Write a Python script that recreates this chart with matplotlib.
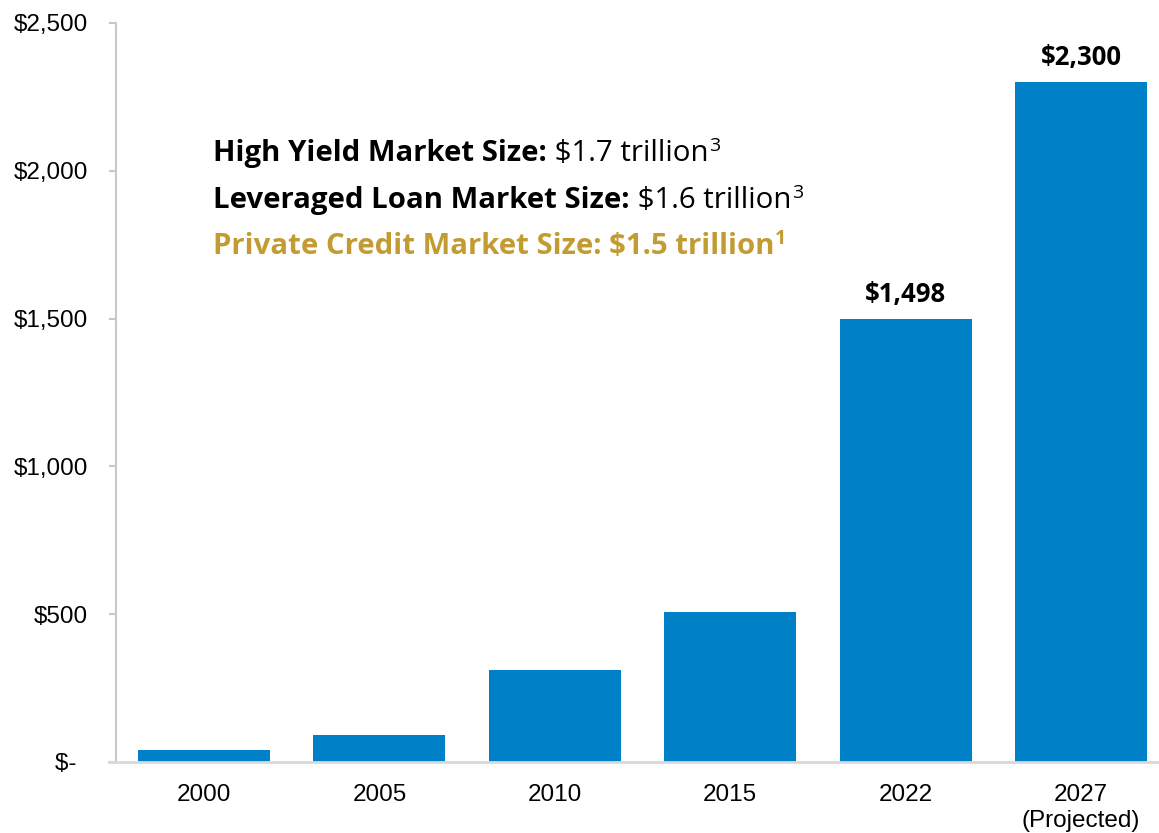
import matplotlib
matplotlib.use("Agg")
import matplotlib.pyplot as plt
from matplotlib.ticker import FixedLocator

categories = ["2000", "2005", "2010", "2015", "2022", "2027\n(Projected)"]
values = [40, 92, 310, 506, 1498, 2300]
value_labels = {4: "$1,498", 5: "$2,300"}
yticks = [0, 500, 1000, 1500, 2000, 2500]
ytick_labels = ["$-\u2002", "$500", "$1,000", "$1,500", "$2,000", "$2,500"]

lines = [
    ("High Yield Market Size:", " $1.7 trillion", "3", "black", False),
    ("Leveraged Loan Market Size:", " $1.6 trillion", "3", "black", False),
    ("Private Credit Market Size: $1.5 trillion", "", "1", "#C29B33", True),
]

BAR = "#0080C6"
FAM = "Open Sans"
W, H = 1159, 833
fig = plt.figure(figsize=(W / 100, H / 100), dpi=100)
ax = fig.add_axes([116 / W, (H - 762) / H, (W - 116) / W, 739 / H])

x = list(range(len(categories)))
ax.bar(x, values, width=0.753, color=BAR, zorder=2)
ax.set_xlim(-0.502, 5.445)
ax.set_ylim(0, 2500)

ax.yaxis.set_major_locator(FixedLocator(yticks))
ax.set_yticklabels(ytick_labels, fontfamily="Liberation Sans", fontsize=17.5)
ax.set_xticks(x)
ax.set_xticklabels(categories, fontfamily="Liberation Sans", fontsize=17.5, linespacing=1.25)
ax.tick_params(axis="x", length=0, pad=15.5)
ax.tick_params(axis="y", length=5, width=1.5, color="#c8c8c8", pad=15)

for s in ["top", "right"]:
    ax.spines[s].set_visible(False)
ax.spines["left"].set_color("#c8c8c8")
ax.spines["left"].set_linewidth(1.5)
ax.spines["bottom"].set_color("#d8d8d8")
ax.spines["bottom"].set_linewidth(2)
ax.spines["bottom"].set_bounds(-0.543, 5.445)

for i, lab in value_labels.items():
    ax.annotate(lab, (i, values[i]), xytext=(0, 12.5), textcoords="offset points",
                ha="center", va="baseline", fontsize=18.5, fontweight="bold",
                fontfamily=FAM, color="black")

baselines = [161, 208, 254]
fs = 21.2
for (bold, reg, sup, col, allbold), yb in zip(lines, baselines):
    t = fig.text(213 / W, 1 - yb / H, bold, fontsize=fs, fontweight="bold",
                 fontfamily=FAM, color=col, va="baseline", ha="left")
    prev = t
    if reg:
        prev = ax.annotate(reg, xy=(1, 0), xycoords=prev, va="bottom", ha="left",
                           fontsize=fs, fontfamily=FAM, color=col)
    ax.annotate(sup, xy=(1, 0), xycoords=prev, xytext=(0.5, 12.5), textcoords="offset points",
                va="baseline", ha="left", fontsize=14,
                fontweight="bold" if allbold else "normal",
                fontfamily=FAM, color=col)

fig.savefig("out.png", dpi=100)
